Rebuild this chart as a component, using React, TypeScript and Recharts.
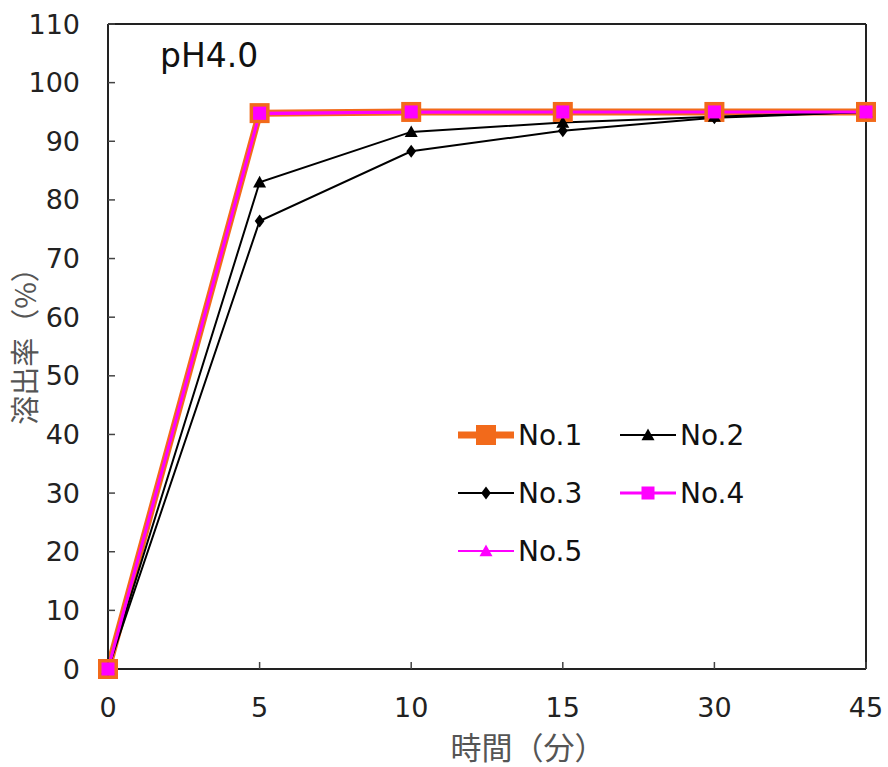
import React from "react";
import { LineChart, Line, XAxis, YAxis, ReferenceLine } from "recharts";

const times = ["0", "5", "10", "15", "30", "45"];
const no1 = [0, 94.8, 95, 95, 95, 95];
const no2 = [0, 83, 91.6, 93.2, 94.2, 95];
const no3 = [0, 76.4, 88.3, 91.8, 94, 95];
const no4 = [0, 94.8, 95, 95, 95, 95];
const no5 = [0, 94.6, 94.9, 95, 95, 95];
const yTicks = [0, 10, 20, 30, 40, 50, 60, 70, 80, 90, 100, 110];

const data = times.map((t, i) => ({
  t,
  "No.1": no1[i],
  "No.2": no2[i],
  "No.3": no3[i],
  "No.4": no4[i],
  "No.5": no5[i],
}));

const ORANGE = "#f26a1b";
const MAGENTA = "#ff00ff";
const FONT = "DejaVu Sans, Liberation Sans, Arial, sans-serif";
const CJK = "Noto Sans CJK JP, sans-serif";

type Shape = "square" | "triangle" | "diamond";

function marker(shape: Shape, cx: number, cy: number, s: number, fill: string) {
  const h = s / 2;
  if (shape === "square") return <rect x={cx - h} y={cy - h} width={s} height={s} fill={fill} />;
  if (shape === "triangle")
    return <polygon points={`${cx},${cy - h} ${cx + h},${cy + h * 0.8} ${cx - h},${cy + h * 0.8}`} fill={fill} />;
  return <polygon points={`${cx},${cy - h} ${cx + h * 0.75},${cy} ${cx},${cy + h} ${cx - h * 0.75},${cy}`} fill={fill} />;
}

const series = [
  { key: "No.1", color: ORANGE, width: 7, shape: "square" as Shape, size: 20 },
  { key: "No.2", color: "#000", width: 2, shape: "triangle" as Shape, size: 13 },
  { key: "No.3", color: "#000", width: 2, shape: "diamond" as Shape, size: 13 },
  { key: "No.4", color: MAGENTA, width: 3, shape: "square" as Shape, size: 13 },
  { key: "No.5", color: MAGENTA, width: 2, shape: "triangle" as Shape, size: 13 },
];

// legend slots (two columns, three rows)
const legendPos = [
  [458, 435],
  [620, 435],
  [458, 493],
  [620, 493],
  [458, 551],
];

function LegendBox() {
  return (
    <svg width={888} height={767} style={{ position: "absolute", left: 0, top: 0, pointerEvents: "none" }}>
      {series.map((s, i) => {
        const [x, y] = legendPos[i];
        return (
          <g key={s.key}>
            <line x1={x} y1={y} x2={x + 56} y2={y} stroke={s.color} strokeWidth={s.width} />
            {marker(s.shape, x + 28, y, s.size, s.color)}
            <text x={x + 60} y={y + 10} fontSize={28} fontFamily={FONT} fill="#111">
              {s.key}
            </text>
          </g>
        );
      })}
    </svg>
  );
}

const tickStyle = { fontSize: 27, fill: "#222", fontFamily: FONT };

export default function App() {
  return (
    <div style={{ position: "absolute", left: 0, top: 0, width: 888, height: 767, background: "#fff" }}>
      <LineChart width={888} height={767} data={data} margin={{ top: 24, right: 22, left: 48, bottom: 58 }}>
        <XAxis
          dataKey="t"
          scale="point"
          interval={0}
          height={40}
          tick={tickStyle}
          tickSize={-7}
          tickMargin={36}
          axisLine={{ stroke: "#222", strokeWidth: 2 }}
          tickLine={{ stroke: "#444", strokeWidth: 1.5 }}
        />
        <YAxis
          domain={[0, 110]}
          ticks={yTicks}
          interval={0}
          width={60}
          tick={tickStyle}
          tickSize={-7}
          tickMargin={35}
          axisLine={{ stroke: "#222", strokeWidth: 2 }}
          tickLine={{ stroke: "#444", strokeWidth: 1.5 }}
        />
        <ReferenceLine y={110} stroke="#222" strokeWidth={2} />
        <ReferenceLine x="45" stroke="#222" strokeWidth={2} />
        {series.map((s) => (
          <Line
            key={s.key}
            dataKey={s.key}
            stroke={s.color}
            strokeWidth={s.width}
            isAnimationActive={false}
            dot={(p: any) => <g key={`${s.key}-${p.index}`}>{marker(s.shape, p.cx, p.cy, s.size, s.color)}</g>}
            activeDot={false}
          />
        ))}
      </LineChart>
      <svg width={888} height={767} style={{ position: "absolute", left: 0, top: 0, pointerEvents: "none" }}>
        <text x={160} y={67} fontSize={33} fontFamily={FONT} fill="#111">
          pH4.0
        </text>
        <text x={528} y={759} textAnchor="middle" fontSize={31} fontFamily={CJK} fill="#555">
          時間（分）
        </text>
        <text
          x={36}
          y={339}
          textAnchor="middle"
          fontSize={29}
          fontFamily={CJK}
          fill="#555"
          transform="rotate(-90 36 339)"
        >
          溶出率（%）
        </text>
      </svg>
      <LegendBox />
    </div>
  );
}
